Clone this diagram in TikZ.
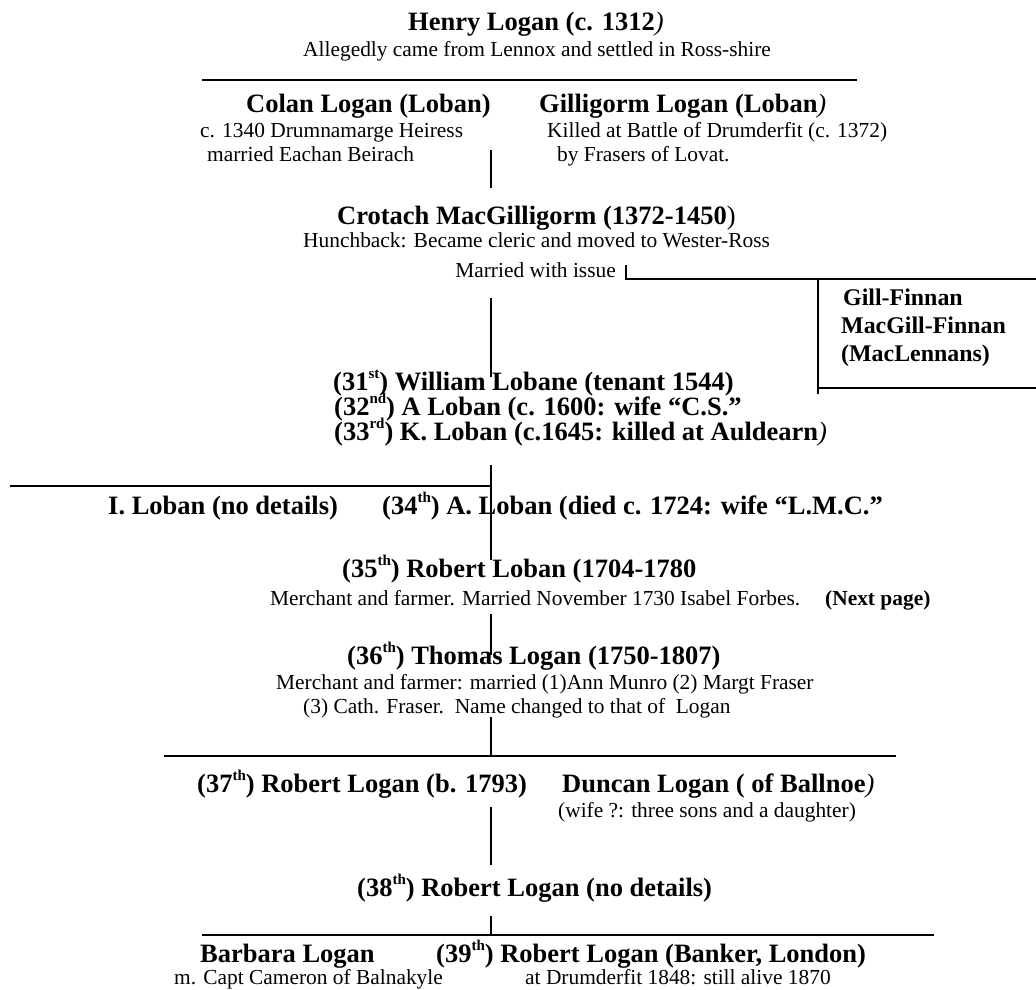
\documentclass[tikz,border=0pt]{standalone}
\usepackage{fontspec}
\setmainfont{Liberation Serif}
\newcommand\ordsup[1]{\raisebox{0.42em}{\fontsize{15}{15}\selectfont #1}}
\begin{document}
\begin{tikzpicture}[x=1pt,y=-1pt,
  hd/.style={font=\fontsize{26.5}{30}\selectfont\bfseries, anchor=base west, inner sep=0pt},
  tx/.style={font=\fontsize{21.4}{24}\selectfont, anchor=base west, inner sep=0pt},
  bx/.style={font=\fontsize{23.9}{27}\selectfont\bfseries, anchor=base west, inner sep=0pt},
  hl/.style={line width=2pt},
  vl/.style={line width=1.6pt}]
\useasboundingbox (0,0) rectangle (1036,990);
% generation 1
\node[hd] (henry) at (408,31) {Henry Logan (c. 1312\textit{\mdseries )}};
\node[tx] (henryd) at (303,57) {Allegedly came from Lennox and settled in Ross-shire};
\coordinate (l1a) at (202,80); \coordinate (l1b) at (857,80);
\draw[hl] (l1a) -- (l1b);
% generation 2
\node[hd] (colan) at (246,112) {Colan Logan (Loban)};
\node[hd] (gilli) at (539,112) {Gilligorm Logan (Loban\textit{\mdseries )}};
\node[tx] (colan1) at (200,137) {c. 1340 Drumnamarge Heiress};
\node[tx] (colan2) at (207,161) {married Eachan Beirach};
\node[tx] (gilli1) at (547,137) {Killed at Battle of Drumderfit (c. 1372)};
\node[tx] (gilli2) at (557,161) {by Frasers of Lovat.};
\coordinate (v1a) at (491,150); \coordinate (v1b) at (491,188);
\draw[vl] (v1a) -- (v1b);
% Crotach
\node[hd] (crotach) at (337,224) {Crotach MacGilligorm (1372-1450\textnormal{)}};
\node[tx] (crotach1) at (303,247) {Hunchback: Became cleric and moved to Wester-Ross};
\node[tx, anchor=base east] (crotach2) at (616,277) {Married with issue};
\coordinate (t1) at (626,265); \coordinate (t2) at (626,279); \coordinate (t3) at (1036,279);
\draw[vl] (t1) -- (t2) -- (t3);
\coordinate (b1) at (818,279); \coordinate (b2) at (818,394);
\coordinate (b3) at (818,388); \coordinate (b4) at (1036,388);
\draw[vl] (b1) -- (b2);
\draw[vl] (b3) -- (b4);
\node[bx] (gf1) at (843,305) {Gill-Finnan};
\node[bx] (gf2) at (841,333) {MacGill-Finnan};
\node[bx] (gf3) at (841,361) {(MacLennans)};
\coordinate (v2a) at (491,298); \coordinate (v2b) at (491,377);
\draw[vl] (v2a) -- (v2b);
% 31-33
\node[hd] (g31) at (333,390) {(31\ordsup{st}) William Lobane (tenant 1544)};
\node[hd] (g32) at (334,415) {(32\ordsup{nd}) A Loban (c. 1600: wife “C.S.”};
\node[hd] (g33) at (334,440) {(33\ordsup{rd}) K. Loban (c.1645: killed at Auldearn\textit{\mdseries )}};
\coordinate (v3a) at (491,465); \coordinate (v3b) at (491,560);
\coordinate (h3a) at (10,486); \coordinate (h3b) at (491,486);
\draw[vl] (v3a) -- (v3b);
\draw[hl] (h3a) -- (h3b);
% 34
\node[hd] (iloban) at (108,514) {I. Loban (no details)};
\node[hd] (g34) at (382,514) {(34\ordsup{th}) A. Loban (died c. 1724: wife “L.M.C.”};
% 35
\node[hd] (g35) at (342,577) {(35\ordsup{th}) Robert Loban (1704-1780};
\node[tx] (g35d) at (270,605) {Merchant and farmer. Married November 1730 Isabel Forbes.};
\node[tx, font=\fontsize{21.4}{24}\selectfont\bfseries] (next) at (825,605) {(Next page)};
\coordinate (v4a) at (491,614); \coordinate (v4b) at (491,655);
\draw[vl] (v4a) -- (v4b);
% 36
\node[hd] (g36) at (347,664) {(36\ordsup{th}) Thomas Logan (1750-1807)};
\node[tx] (g36a) at (276,689) {Merchant and farmer: married (1)Ann Munro (2) Margt Fraser};
\node[tx] (g36b) at (303,713) {(3) Cath. Fraser.\ \ Name changed to that of\ \ Logan};
\coordinate (v5a) at (491,717); \coordinate (v5b) at (491,756);
\coordinate (h5a) at (164,756); \coordinate (h5b) at (896,756);
\draw[vl] (v5a) -- (v5b);
\draw[hl] (h5a) -- (h5b);
% 37
\node[hd] (g37) at (197,792) {(37\ordsup{th}) Robert Logan (b. 1793)};
\node[hd] (duncan) at (562,792) {Duncan Logan ( of Ballnoe\textit{\mdseries )}};
\node[tx] (duncand) at (558,817) {(wife ?: three sons and a daughter)};
\coordinate (v6a) at (491,807); \coordinate (v6b) at (491,865);
\draw[vl] (v6a) -- (v6b);
% 38
\node[hd] (g38) at (357,896) {(38\ordsup{th}) Robert Logan (no details)};
\coordinate (v7a) at (491,916); \coordinate (v7b) at (491,935);
\coordinate (h7a) at (202,935); \coordinate (h7b) at (934,935);
\draw[vl] (v7a) -- (v7b);
\draw[hl] (h7a) -- (h7b);
% 39
\node[hd] (barbara) at (200,962) {Barbara Logan};
\node[hd] (g39) at (436,962) {(39\ordsup{th}) Robert Logan (Banker, London)};
\node[tx] (barbarad) at (174,984) {m. Capt Cameron of Balnakyle};
\node[tx] (g39d) at (525,984) {at Drumderfit 1848: still alive 1870};
\end{tikzpicture}
\end{document}
